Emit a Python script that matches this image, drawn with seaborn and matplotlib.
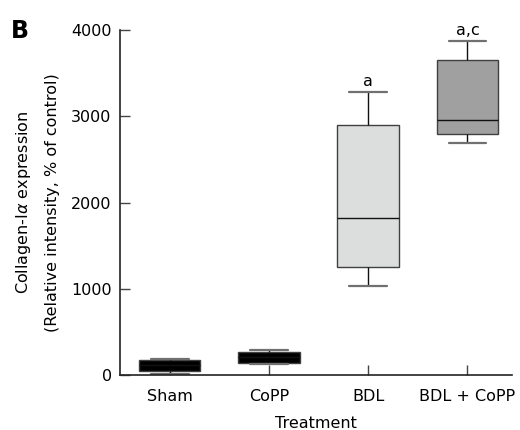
import matplotlib
matplotlib.use("Agg")
import matplotlib.pyplot as plt
import seaborn as sns
import pandas as pd

categories = ["Sham", "CoPP", "BDL", "BDL + CoPP"]
# five-number summaries: min, Q1, median, Q3, max
sham_vals = [12, 46, 110, 174, 182]
copp_vals = [128, 143, 210, 263, 286]
bdl_vals = [1030, 1250, 1820, 2900, 3280]
bdlcopp_vals = [2690, 2790, 2960, 3650, 3870]
box_colors = ["#000000", "#000000", "#dcdedd", "#a0a0a0"]
annotations = ["", "", "a", "a,c"]
yticks = [0, 1000, 2000, 3000, 4000]

rows = []
for cat, vals in zip(categories, [sham_vals, copp_vals, bdl_vals, bdlcopp_vals]):
    for v in vals:
        rows.append({"Treatment": cat, "value": v})
df = pd.DataFrame(rows)

sns.set_style("white", {"xtick.bottom": True, "ytick.left": True,
                        "text.color": "black", "axes.labelcolor": "black",
                        "xtick.color": "black", "ytick.color": "black"})
plt.rcParams["font.family"] = ["DejaVu Sans"]

fig = plt.figure(figsize=(5.2, 4.3), dpi=100)
ax = fig.add_axes([0.2308, 0.128, 0.754, 0.802])

sns.boxplot(data=df, x="Treatment", y="value", hue="Treatment", order=categories,
            hue_order=categories, palette=box_colors, legend=False, whis=(0, 100),
            width=0.62, ax=ax, saturation=1, showfliers=False, linecolor="#222222",
            linewidth=1.0)

for cont in ax.containers:
    for cap in getattr(cont, "caps", []):
        cap.set_color("#707070")
        cap.set_linewidth(1.6)
        xd = cap.get_xdata()
        c = (xd[0] + xd[1]) / 2.0
        cap.set_xdata([c - 0.19, c + 0.19])
    for w in getattr(cont, "whiskers", []):
        w.set_color("#111111")
    for m in getattr(cont, "medians", []):
        m.set_color("#111111")
    for b in getattr(cont, "boxes", []):
        b.set_edgecolor("#404040")

for i, (txt, vals) in enumerate(zip(annotations, [sham_vals, copp_vals, bdl_vals, bdlcopp_vals])):
    if txt:
        ax.text(i, max(vals) + 40, txt, ha="center", va="bottom", fontsize=11.5, clip_on=False)

ax.set_ylim(0, 4000)
ax.set_xlim(-0.5, 3.45)
ax.set_yticks(yticks)
ax.set_yticklabels([str(t) for t in yticks], fontsize=11.5)
ax.tick_params(axis="y", direction="in", length=7, width=1, color="#444444", pad=6, labelcolor="black")
ax.tick_params(axis="x", direction="in", length=7, width=1, color="#444444", labelsize=11.5, pad=10, labelcolor="black")
ax.set_xlabel("Treatment", fontsize=11.5, labelpad=9)
ax.set_ylabel("Collagen-I$\\alpha$ expression\n(Relative intensity, % of control)", fontsize=11.5,
              labelpad=8, linespacing=2.0)
for s in ["top", "right"]:
    ax.spines[s].set_visible(False)
for s in ["left", "bottom"]:
    ax.spines[s].set_color("#222222")
    ax.spines[s].set_linewidth(1.2)

fig.text(0.02, 0.928, "B", fontsize=17, fontweight="bold", ha="left", va="center")

fig.savefig("out.png", dpi=100)
